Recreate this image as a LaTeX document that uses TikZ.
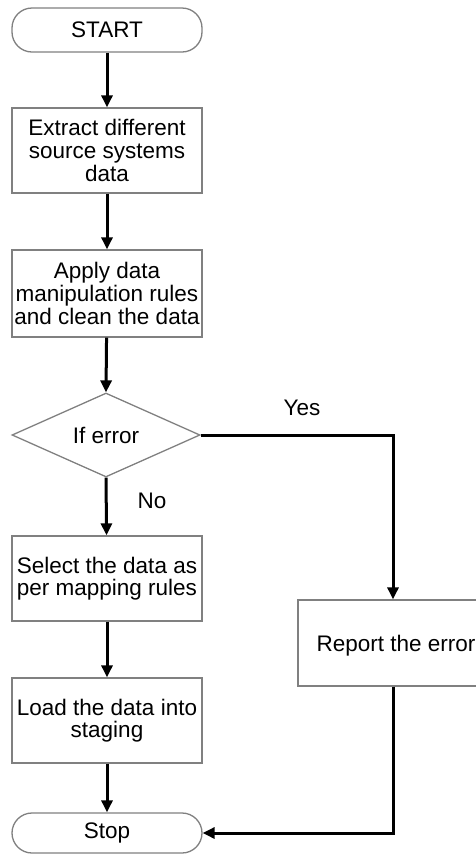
\documentclass[tikz,border=0pt]{standalone}
\usepackage{fontspec}
\setmainfont{Liberation Sans}
\usetikzlibrary{arrows.meta,shapes.geometric}
\begin{document}
\begin{tikzpicture}[x=1pt,y=-1pt,
  font=\fontsize{22.5}{22.6}\selectfont,
  boxline/.style={draw=black!50,line width=1.3pt},
  procbox/.style={boxline,minimum width=190pt,inner sep=1pt,align=center},
  termbox/.style={boxline,minimum width=190pt,rounded corners=20pt,inner sep=0pt},
  decbox/.style={boxline,diamond,aspect=2.24,minimum width=188pt,minimum height=84pt,inner sep=0pt},
  flow/.style={line width=3pt,-{Triangle[length=12pt,width=11pt]}}]
\useasboundingbox (0,0) rectangle (476,855);
% terminals and steps down the main column
\node[termbox,minimum height=44pt] (start) at (107,30) {START};
\node[procbox,minimum height=85pt] (extract) at (107,150.5) {Extract different\\source systems\\data};
\node[procbox,minimum height=87pt] (apply) at (107,293.5) {Apply data\\manipulation rules\\and clean the data};
\node[decbox] (iferr) at (106,435) {If error};
\node[procbox,minimum height=85pt] (select) at (107,578.5) {Select the data as\\per mapping rules};
\node[procbox,minimum height=85pt] (load) at (107,720.5) {Load the data into\\staging};
\node[termbox,minimum height=40pt] (stop) at (107,833) {Stop};
% error branch
\node[procbox,minimum height=86pt,text depth=0pt,xshift=0pt] (report) at (393,643) {\hspace*{6pt}Report the error};
% branch labels
\node (yes) at (302,408) {Yes};
\node (no) at (152,501) {No};
% connectors
\draw[flow] (start) -- (extract);
\draw[flow] (extract) -- (apply);
\draw[flow] (apply) -- (iferr.north);
\draw[flow] (iferr.south) -- (select);
\draw[flow] (select) -- (load);
\draw[flow] (load) -- (stop);
\draw[flow] (iferr.east) -| (report.north);
\draw[flow] (report.south) |- (stop.east);
\end{tikzpicture}
\end{document}
